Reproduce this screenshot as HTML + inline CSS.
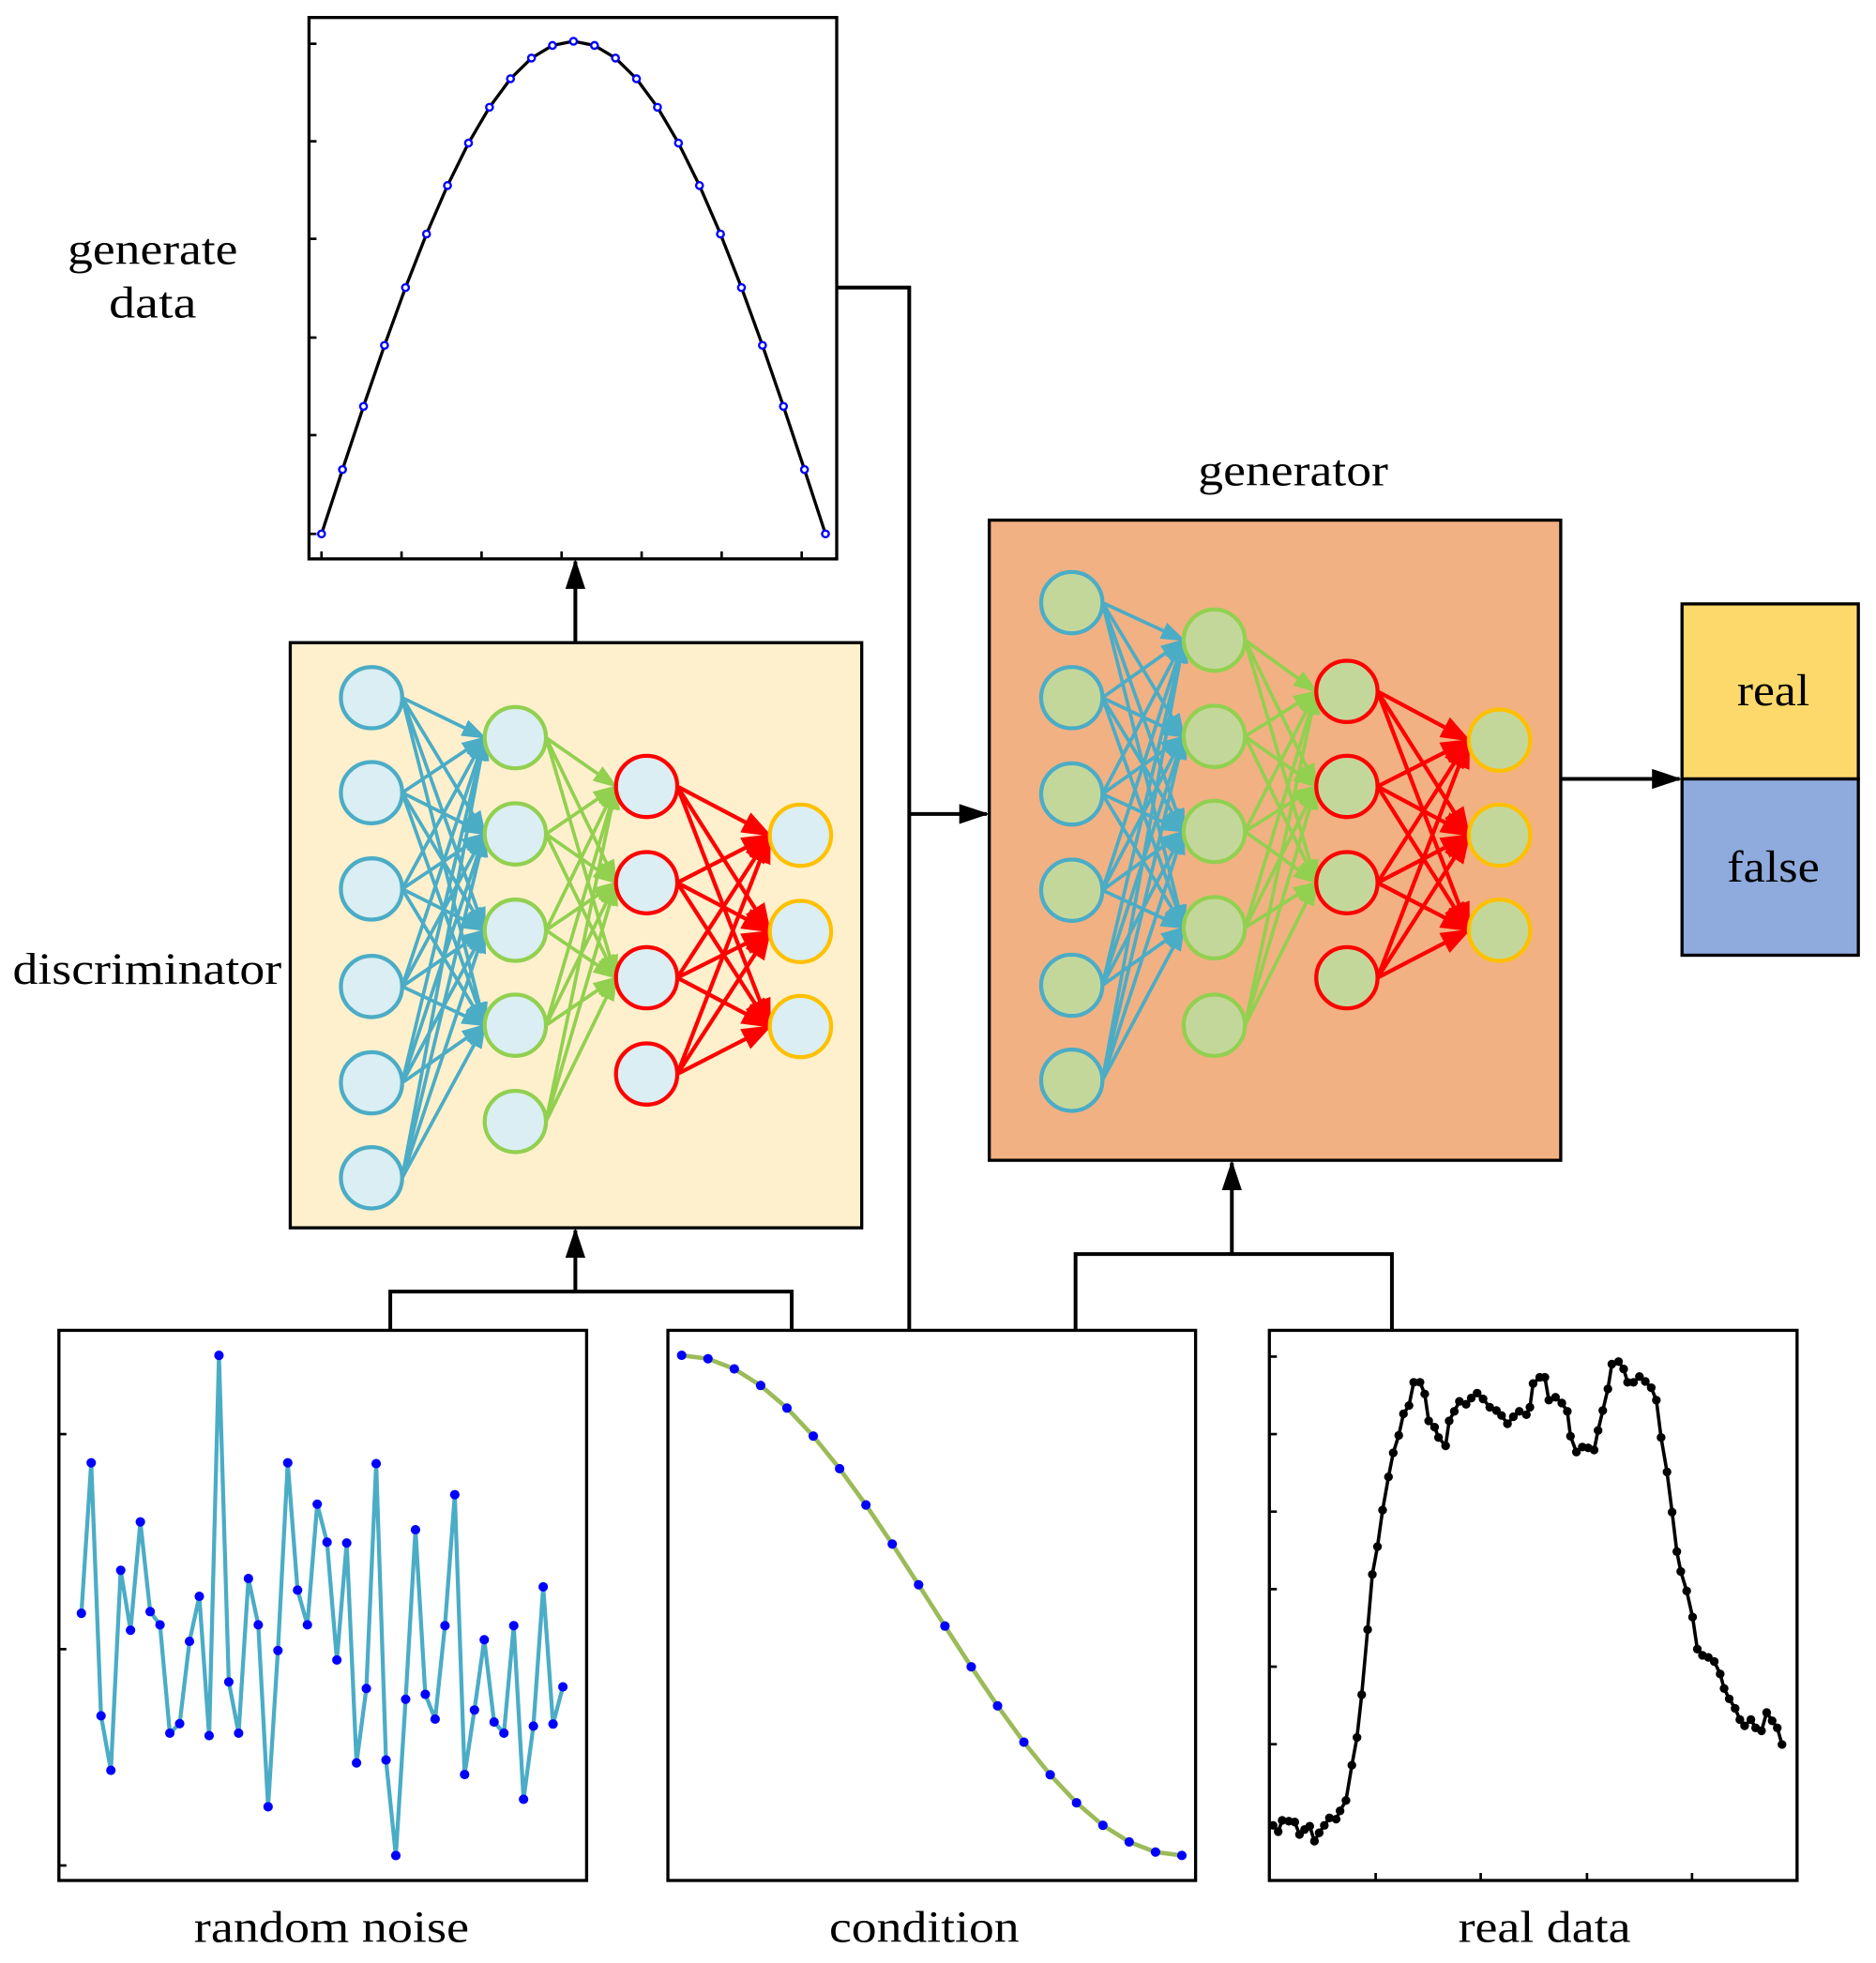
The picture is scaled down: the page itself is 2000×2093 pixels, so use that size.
<!DOCTYPE html>
<html><head><meta charset="utf-8"><style>
html,body{margin:0;padding:0;background:#fff;}
svg{display:block;}
text{font-family:"Liberation Serif",serif;fill:#000;}
</style></head><body>
<svg id="s" width="2000" height="2093" viewBox="0 0 1500 1570" xmlns="http://www.w3.org/2000/svg">
<defs>
<marker id="mk" markerUnits="userSpaceOnUse" markerWidth="24" markerHeight="16" refX="22" refY="8" orient="auto"><path d="M0,0 L24,8 L0,16 Z" fill="#000"/></marker>
<marker id="mb" markerUnits="userSpaceOnUse" markerWidth="20" markerHeight="14" refX="18" refY="7" orient="auto"><path d="M0,0 L20,7 L0,14 Z" fill="#4bacc6"/></marker>
<marker id="mg" markerUnits="userSpaceOnUse" markerWidth="20" markerHeight="14" refX="18" refY="7" orient="auto"><path d="M0,0 L20,7 L0,14 Z" fill="#92d050"/></marker>
<marker id="mr" markerUnits="userSpaceOnUse" markerWidth="24" markerHeight="18" refX="22" refY="9" orient="auto"><path d="M0,0 L24,9 L0,18 Z" fill="#ff0000"/></marker>
</defs>

<rect x="247" y="14" width="422" height="433" fill="#fff" stroke="#000" stroke-width="2.5"/>
<g stroke="#000" stroke-width="2">
<line x1="247" y1="35" x2="253" y2="35"/><line x1="247" y1="113" x2="253" y2="113"/><line x1="247" y1="191" x2="253" y2="191"/><line x1="247" y1="270" x2="253" y2="270"/><line x1="247" y1="348" x2="253" y2="348"/><line x1="247" y1="427" x2="253" y2="427"/>
<line x1="257" y1="447" x2="257" y2="441"/><line x1="321" y1="447" x2="321" y2="441"/><line x1="385" y1="447" x2="385" y2="441"/><line x1="449" y1="447" x2="449" y2="441"/><line x1="513" y1="447" x2="513" y2="441"/><line x1="577" y1="447" x2="577" y2="441"/><line x1="641" y1="447" x2="641" y2="441"/>
</g>
<g id="parab"></g>
<text x="54" y="211" font-size="36" textLength="136" lengthAdjust="spacingAndGlyphs">generate</text>
<text x="87" y="254" font-size="36" textLength="70" lengthAdjust="spacingAndGlyphs">data</text>

<rect x="232" y="514" width="457" height="468" fill="#fef0cd" stroke="#000" stroke-width="2.5"/>
<text x="10" y="787" font-size="36" textLength="215" lengthAdjust="spacingAndGlyphs">discriminator</text>
<g id="disc"></g>

<rect x="791" y="416" width="457" height="512" fill="#f2b183" stroke="#000" stroke-width="2.5"/>
<text x="958" y="388" font-size="36" textLength="152" lengthAdjust="spacingAndGlyphs">generator</text>
<g id="gen"></g>

<rect x="1345" y="483" width="141" height="140" fill="#fdd96c" stroke="#000" stroke-width="2.5"/>
<rect x="1345" y="623" width="141" height="141" fill="#8faadc" stroke="#000" stroke-width="2.5"/>
<text x="1389" y="564" font-size="36" textLength="58" lengthAdjust="spacingAndGlyphs">real</text>
<text x="1381" y="705" font-size="36" textLength="74" lengthAdjust="spacingAndGlyphs">false</text>

<g stroke="#000" stroke-width="3" fill="none">
<line x1="460" y1="514" x2="460" y2="449" marker-end="url(#mk)"/>
<polyline points="669,230 727,230 727,1064"/>
<line x1="727" y1="651" x2="789" y2="651" marker-end="url(#mk)"/>
<line x1="1248" y1="623" x2="1343" y2="623" marker-end="url(#mk)"/>
<polyline points="312,1064 312,1033 633,1033 633,1064"/>
<line x1="460" y1="1033" x2="460" y2="984" marker-end="url(#mk)"/>
<polyline points="860,1064 860,1003 1113,1003 1113,1064"/>
<line x1="985" y1="1003" x2="985" y2="930" marker-end="url(#mk)"/>
</g>

<rect x="47" y="1064" width="422" height="440" fill="#fff" stroke="#000" stroke-width="2.5"/>
<rect x="534" y="1064" width="422" height="440" fill="#fff" stroke="#000" stroke-width="2.5"/>
<rect x="1015" y="1064" width="422" height="440" fill="#fff" stroke="#000" stroke-width="2.5"/>
<g stroke="#000" stroke-width="2">
<line x1="47" y1="1147" x2="53" y2="1147"/><line x1="47" y1="1319" x2="53" y2="1319"/><line x1="47" y1="1492" x2="53" y2="1492"/>
<line x1="1015" y1="1085" x2="1021" y2="1085"/><line x1="1015" y1="1147" x2="1021" y2="1147"/><line x1="1015" y1="1209" x2="1021" y2="1209"/><line x1="1015" y1="1271" x2="1021" y2="1271"/><line x1="1015" y1="1333" x2="1021" y2="1333"/><line x1="1015" y1="1395" x2="1021" y2="1395"/>
<line x1="1100" y1="1504" x2="1100" y2="1498"/><line x1="1184" y1="1504" x2="1184" y2="1498"/><line x1="1269" y1="1504" x2="1269" y2="1498"/><line x1="1353" y1="1504" x2="1353" y2="1498"/>
</g>
<g id="plots"></g>
<text x="155" y="1553" font-size="36" textLength="220" lengthAdjust="spacingAndGlyphs">random noise</text>
<text x="663" y="1553" font-size="36" textLength="152" lengthAdjust="spacingAndGlyphs">condition</text>
<text x="1166" y="1553" font-size="36" textLength="138" lengthAdjust="spacingAndGlyphs">real data</text>
</svg>
<script>
var NS="http://www.w3.org/2000/svg";
function el(p,t,a){var e=document.createElementNS(NS,t);for(var k in a)e.setAttribute(k,a[k]);p.appendChild(e);return e;}
var pg=document.getElementById("parab");var pts=[];
for(var k=0;k<=24;k++){var x=257+k*(403/24);var y=33+394*(1-Math.sin(Math.PI*k/24));pts.push([x,y]);}
el(pg,"polyline",{points:pts.map(function(p){return p.join(",")}).join(" "),fill:"none",stroke:"#000","stroke-width":2.5});
pts.forEach(function(p){el(pg,"circle",{cx:p[0],cy:p[1],r:2.7,fill:"#fff",stroke:"#0000ff","stroke-width":1.8});});
function net(g,cols,edges,fill){
 var R=24.5;var colors=["#4bacc6","#92d050","#ff0000","#ffc000"];var mks=["mb","mg","mr"];var sw=[2.8,2.8,3.2];
 for(var c=0;c<3;c++){var A=cols[c],B=cols[c+1];
  for(var i=0;i<A.ys.length;i++)for(var j=0;j<edges[c];j++){
   el(g,"line",{x1:A.x+R,y1:A.ys[i],x2:B.x-R,y2:B.ys[j],stroke:colors[c],"stroke-width":sw[c],"marker-end":"url(#"+mks[c]+")"});
  }}
 for(var c=0;c<4;c++)cols[c].ys.forEach(function(y){el(g,"circle",{cx:cols[c].x,cy:y,r:R,fill:fill,stroke:colors[c],"stroke-width":3.2});});
}
net(document.getElementById("disc"),[{x:297,ys:[558,634,711,789,866,942]},{x:412,ys:[590,667,744,820,897]},{x:517,ys:[629,706,782,859]},{x:640,ys:[668,745,821]}],[4,3,3],"#daeef3");
net(document.getElementById("gen"),[{x:857,ys:[482,558,635,712,788,864]},{x:971,ys:[512,589,665,742,820]},{x:1077,ys:[553,629,706,782]},{x:1199,ys:[592,668,744]}],[4,3,3],"#c4d79b");
var pl=document.getElementById("plots");
var rn=[732,368,980,1112,628,773,511,728,760,1022,999,800,691,1028,108,898,1022,648,760,1200,822,368,676,760,468,560,845,562,1094,914,370,1087,1318,940,530,928,988,762,445,1122,966,796,995,1022,762,1182,1005,668,1000,910];
var rp=rn.map(function(v,i){return [-1.3+(210+i*1220/49)*0.3156,1048.3+v*0.3306];});
el(pl,"polyline",{points:rp.map(function(p){return p.join(",")}).join(" "),fill:"none",stroke:"#4bacc6","stroke-width":3.2});
rp.forEach(function(p){el(pl,"circle",{cx:p[0],cy:p[1],r:3.8,fill:"#0000ff"});});
var cp=[];for(var k=0;k<20;k++){var t=k/19;cp.push([545+400*t,1084+400*(1-Math.cos(Math.PI*t))/2]);}
el(pl,"polyline",{points:cp.map(function(p){return p.join(",")}).join(" "),fill:"none",stroke:"#9bbb59","stroke-width":3.5});
cp.forEach(function(p){el(pl,"circle",{cx:p[0],cy:p[1],r:3.8,fill:"#0000ff"});});
var rd=[[45,1240],[58,1255],[68,1228],[85,1230],[100,1232],[112,1262],[125,1250],[138,1242],[150,1278],[162,1258],[175,1240],[188,1222],[205,1225],[215,1205],[230,1180],[245,1095],[258,1028],[270,925],[285,768],[297,635],[310,568],[323,480],[338,400],[350,342],[364,300],[376,248],[390,228],[402,172],[418,172],[430,200],[440,265],[455,280],[465,305],[483,325],[492,265],[505,242],[518,218],[535,225],[548,210],[563,198],[578,212],[595,232],[612,240],[625,252],[640,272],[655,255],[670,242],[688,250],[697,232],[705,175],[722,160],[735,160],[745,215],[762,208],[778,222],[792,242],[800,302],[815,340],[830,328],[845,330],[860,335],[870,288],[882,240],[895,188],[905,128],[922,122],[935,140],[945,172],[960,172],[975,158],[990,170],[1005,185],[1018,215],[1030,305],[1045,388],[1058,485],[1070,580],[1080,628],[1095,675],[1110,738],[1122,815],[1135,830],[1150,835],[1165,845],[1180,875],[1190,910],[1203,935],[1218,958],[1230,985],[1242,1000],[1258,985],[1270,1005],[1285,1012],[1298,968],[1312,988],[1325,1005],[1337,1045]];
var dp=rd.map(function(p){return [1003.8+p[0]*0.315,1048.5+p[1]*0.3318];});
el(pl,"polyline",{points:dp.map(function(p){return p.join(",")}).join(" "),fill:"none",stroke:"#000","stroke-width":2.7});
dp.forEach(function(p){el(pl,"circle",{cx:p[0],cy:p[1],r:3.5,fill:"#000"});});
</script>
</body></html>
